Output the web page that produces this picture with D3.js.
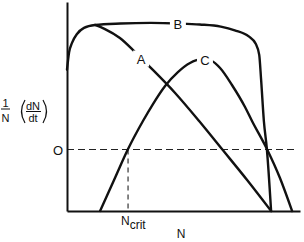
<!DOCTYPE html>
<html>
<head>
<meta charset="utf-8">
<script src="https://cdn.jsdelivr.net/npm/d3@7"></script>
<style>
  body { margin: 0; background: #fff; }
  svg text { font-family: "Liberation Sans", Arial, sans-serif; fill: #111; }
</style>
</head>
<body>
<svg id="chart" width="304" height="242"></svg>
<script>
// population N (arbitrary units 0..100) vs per-capita growth rate 1/N dN/dt
var curveA_N    = [12, 16.3, 22.7, 29.2, 34.8, 46.4, 56.7, 66.5, 77.3, 87.6];
var curveA_rate = [1.013, 0.98, 0.907, 0.793, 0.687, 0.46, 0.232, 0.004, -0.248, -0.5];

var curveB_N    = [0, 0.9, 2.2, 4.3, 7.3, 12, 23, 36, 48, 57, 66, 72, 78, 81, 82.5, 83.3, 84.5, 85.8, 87.6];
var curveB_rate = [0.65, 0.79, 0.87, 0.94, 0.99, 1.013, 1.025, 1.03, 1.025, 1.017, 1.0, 0.97, 0.92, 0.86, 0.77, 0.57, 0.23, 0.0, -0.5];

var curveC_N    = [14.2, 20.2, 26.2, 32.6, 36.9, 42.1, 47.6, 52.8, 57.1, 59.2, 62.2, 65.7, 70.8, 76.4, 79.4, 85.8, 91.4, 96.6];
var curveC_rate = [-0.5, -0.248, 0.004, 0.232, 0.37, 0.517, 0.63, 0.704, 0.732, 0.732, 0.72, 0.663, 0.525, 0.346, 0.232, 0.004, -0.232, -0.5];

var curveNames = ['A', 'B', 'C'];
var labelN     = [31.8, 47.6, 59.2];   // where each letter sits on its curve
var labelRate  = [0.74, 1.025, 0.73];
var nCrit = 26.2;

var svg = d3.select('#chart');
var x = d3.scaleLinear().domain([0, 100]).range([67, 300]);
var y = d3.scaleLinear().domain([-0.5, 1.2]).range([211, 2]);

function pts(ns, rs){ return ns.map(function(n, i){ return [n, rs[i]]; }); }
var curves = [pts(curveA_N, curveA_rate), pts(curveB_N, curveB_rate), pts(curveC_N, curveC_rate)];

var line = d3.line()
  .x(function(d){ return x(d[0]); })
  .y(function(d){ return y(d[1]); })
  .curve(d3.curveMonotoneX);

// zero line + N crit (dashed)
svg.append('line')
  .attr('x1', x(0)).attr('x2', x(98.7)).attr('y1', y(0)).attr('y2', y(0))
  .attr('stroke', '#222').attr('stroke-width', 1.1).attr('stroke-dasharray', '7,4');
svg.append('line')
  .attr('x1', x(nCrit)).attr('x2', x(nCrit)).attr('y1', y(0)).attr('y2', y(-0.5))
  .attr('stroke', '#222').attr('stroke-width', 1.1).attr('stroke-dasharray', '5,4');

svg.selectAll('.curve').data(curves).enter()
  .append('path').attr('class', 'curve')
  .attr('d', line)
  .attr('fill', 'none').attr('stroke', '#111').attr('stroke-width', 2.4)
  .attr('stroke-linecap', 'round');

// curve letters, with white backing to break the line
var lab = svg.selectAll('.lab').data(curveNames).enter().append('g').attr('class', 'lab');
lab.append('rect')
  .attr('x', function(d, i){ return x(labelN[i]) - 8; })
  .attr('y', function(d, i){ return y(labelRate[i]) - 8; })
  .attr('width', 16).attr('height', 16).attr('fill', '#fff');
lab.append('text')
  .attr('x', function(d, i){ return x(labelN[i]); })
  .attr('y', function(d, i){ return y(labelRate[i]) + 5; })
  .attr('text-anchor', 'middle').attr('font-size', 13)
  .text(function(d){ return d; });

// axes
svg.append('g').attr('transform', 'translate(0,' + y(-0.5) + ')')
  .call(d3.axisBottom(x).tickValues([]).tickSizeOuter(0))
  .select('.domain').attr('stroke', '#111').attr('stroke-width', 2);
svg.append('g').attr('transform', 'translate(' + x(0) + ',0)')
  .call(d3.axisLeft(y).tickValues([]).tickSizeOuter(0))
  .select('.domain').attr('stroke', '#111').attr('stroke-width', 2);

// tick labels
svg.append('text').attr('x', x(0) - 4).attr('y', y(0) + 5)
  .attr('text-anchor', 'end').attr('font-size', 13).text('O');
var nc = svg.append('text').attr('x', x(nCrit) - 7).attr('y', 225).attr('font-size', 12);
nc.append('tspan').text('N');
nc.append('tspan').attr('dy', 4).attr('font-size', 12).text('crit');
svg.append('text').attr('x', 181).attr('y', 238).attr('text-anchor', 'middle')
  .attr('font-size', 12).text('N');

// y label: 1/N (dN/dt)
var yl = svg.append('g');
yl.append('text').attr('x', 5.5).attr('y', 107).attr('text-anchor', 'middle').attr('font-size', 11).text('1');
yl.append('line').attr('x1', 1).attr('x2', 10).attr('y1', 109).attr('y2', 109).attr('stroke', '#111').attr('stroke-width', 1);
yl.append('text').attr('x', 5.5).attr('y', 122).attr('text-anchor', 'middle').attr('font-size', 11).text('N');
yl.append('path').attr('d', 'M25,100 Q18,111.5 25,123').attr('fill', 'none').attr('stroke', '#111').attr('stroke-width', 1.2);
yl.append('path').attr('d', 'M43,100 Q50,111.5 43,123').attr('fill', 'none').attr('stroke', '#111').attr('stroke-width', 1.2);
yl.append('text').attr('x', 33).attr('y', 110).attr('text-anchor', 'middle').attr('font-size', 11).text('dN');
yl.append('line').attr('x1', 26).attr('x2', 41).attr('y1', 111.5).attr('y2', 111.5).attr('stroke', '#111').attr('stroke-width', 1);
yl.append('text').attr('x', 33).attr('y', 122).attr('text-anchor', 'middle').attr('font-size', 11).text('dt');
</script>
</body>
</html>
